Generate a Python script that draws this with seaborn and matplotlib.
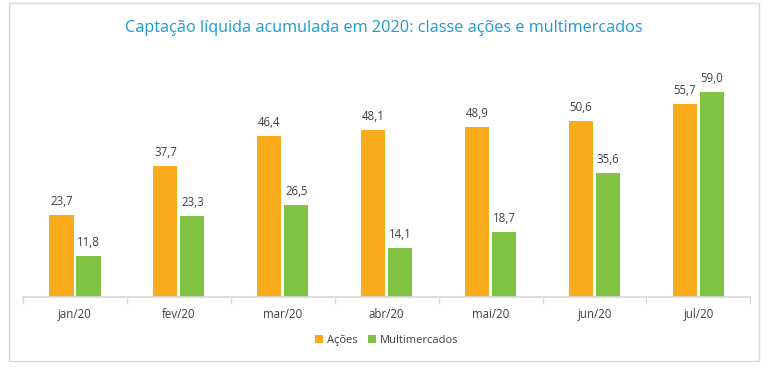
import matplotlib
matplotlib.use("Agg")
import matplotlib.pyplot as plt
import seaborn as sns
import pandas as pd
import numpy as np
from matplotlib.patches import Rectangle

months = ["jan/20", "fev/20", "mar/20", "abr/20", "mai/20", "jun/20", "jul/20"]
acoes = [23.7, 37.7, 46.4, 48.1, 48.9, 50.6, 55.7]
multimercados = [11.8, 23.3, 26.5, 14.1, 18.7, 35.6, 59.0]
series_names = ["Ações", "Multimercados"]

df = pd.DataFrame({
    "mes": months * 2,
    "valor": acoes + multimercados,
    "classe": [series_names[0]] * len(months) + [series_names[1]] * len(months),
})

sns.set_theme(style="white")
plt.rcParams['font.family'] = ['Open Sans', 'DejaVu Sans']

fig = plt.figure(figsize=(7.68, 3.73), dpi=100)
ax = fig.add_axes([0.030, 0.204, 0.947, 0.651])

palette = {"Ações": "#F9AB1B", "Multimercados": "#80C342"}
sns.barplot(data=df, x="mes", y="valor", hue="classe", palette=palette,
            width=0.52, dodge=True, gap=0.11, ax=ax, saturation=1, legend=True,
            linewidth=0)

for cont in ax.containers:
    ax.bar_label(cont, labels=[f"{v:.1f}".replace(".", ",") for v in cont.datavalues],
                 padding=5, fontsize=8.3, color="#404040")

ax.set_ylim(0, 70)
ax.set_xlim(-0.5, len(months) - 0.5)
ax.set_xlabel("")
ax.set_ylabel("")
ax.set_yticks([])
for s in ["top", "right", "left"]:
    ax.spines[s].set_visible(False)
ax.spines["bottom"].set_color("#D9D9D9")
ax.tick_params(axis="x", which="major", length=0, labelsize=8.3, labelcolor="#404040", pad=8)
ax.set_xticks(np.arange(-0.5, len(months), 1.0), minor=True)
ax.tick_params(axis="x", which="minor", length=5, color="#D9D9D9", bottom=True)

leg = ax.legend(loc="upper center", bbox_to_anchor=(0.5, -0.115), ncol=2, frameon=False,
                fontsize=8, handlelength=0.7, handleheight=0.7, handletextpad=0.3,
                columnspacing=1.0)
for t in leg.get_texts():
    t.set_color("#404040")

fig.text(0.5, 0.925, "Captação líquida acumulada em 2020: classe ações e multimercados",
         ha="center", va="center", fontsize=11.7, color="#1B9AD6")

fig.patches.append(Rectangle((0.012, 0.032), 0.976, 0.96, transform=fig.transFigure,
                             fill=False, edgecolor="#D9D9D9", linewidth=1))

fig.savefig("out.png", dpi=100)
